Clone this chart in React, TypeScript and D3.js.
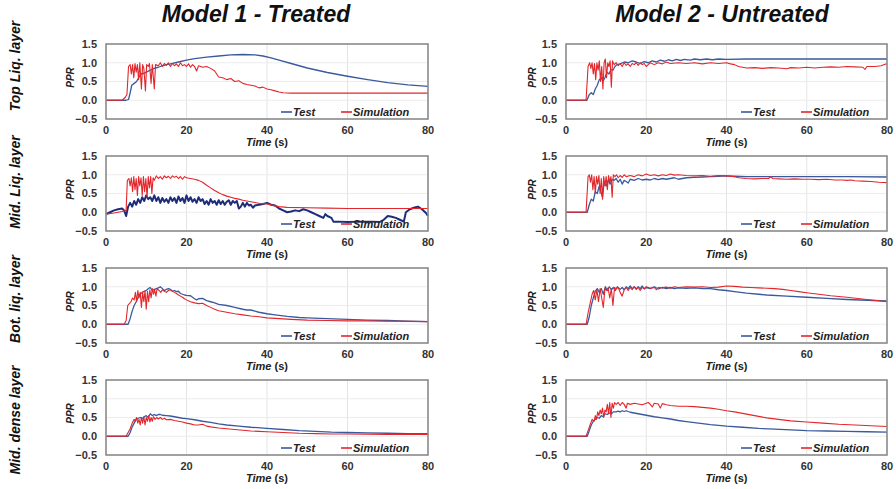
import React from 'react';
import * as d3 from 'd3';

type Pt = [number, number];

const columnTitles = ['Model 1 - Treated', 'Model 2 - Untreated'];
const rowLabels = ['Top Liq. layer', 'Mid. Liq. layer', 'Bot. liq. layer', 'Mid. dense layer'];
const xTicks = [0, 20, 40, 60, 80];
const yTicks = [-0.5, 0, 0.5, 1, 1.5];
const seriesNames = ['Test', 'Simulation'];

// Model 1 - top liquefiable layer
const m1TopTest: Pt[] = [[0,0],[5,0],[5.6,0.02],[6,0.2],[6.4,0.4],[7,0.45],[7.6,0.5],[8.2,0.62],[8.6,0.7],[9.5,0.72],[10,0.75],[11,0.8],[12,0.85],[13,0.88],[14,0.92],[15,0.95],[16,0.97],[18,1.02],[20,1.07],[22,1.11],[25,1.15],[28,1.18],[31,1.21],[34,1.22],[37,1.21],[39,1.18],[41,1.13],[43,1.07],[46,0.98],[50,0.86],[55,0.74],[60,0.64],[65,0.55],[70,0.47],[75,0.41],[80,0.37]];
const m1TopSim: Pt[] = [[0,0],[4,0],[4.8,0.08],[5.2,0.15],[5.6,0.9],[6,0.95],[6.3,0.7],[6.6,0.95],[6.9,0.6],[7.2,0.98],[7.5,0.75],[7.8,0.95],[8.1,0.55],[8.4,1.0],[8.8,0.3],[9.1,0.95],[9.4,0.85],[9.8,0.25],[10.1,0.95],[10.5,0.9],[10.8,0.98],[11.2,0.45],[11.5,0.95],[12,0.3],[12.3,0.95],[13,0.92],[13.5,1.0],[14,0.9],[14.5,0.98],[15,0.93],[15.5,1.0],[16,0.9],[16.5,0.98],[17,0.92],[17.5,0.97],[18,0.9],[18.5,1.0],[19,0.92],[19.5,0.95],[20,0.9],[20.5,0.97],[21,0.88],[21.5,0.95],[22,0.9],[22.5,0.78],[23,0.92],[24,0.88],[25,0.9],[26,0.85],[27,0.78],[28,0.62],[29,0.6],[30,0.55],[31,0.58],[32,0.5],[33,0.52],[34,0.45],[35,0.42],[36,0.4],[37,0.38],[38,0.33],[39,0.35],[40,0.3],[41,0.28],[42,0.25],[43,0.22],[44,0.2],[46,0.19],[50,0.19],[60,0.19],[70,0.19],[80,0.19]];

// Model 2 - top liquefiable layer
const m2TopTest: Pt[] = [[0,0],[5.2,0],[5.8,0.15],[6.3,0.2],[6.8,0.15],[7.3,0.3],[7.8,0.4],[8.3,0.55],[8.8,0.6],[9.2,0.5],[9.7,0.6],[10.2,0.75],[10.7,0.7],[11.2,0.82],[11.7,0.8],[12.2,0.9],[12.7,0.95],[13.5,0.97],[14.5,1.02],[15.5,1.0],[16.5,1.05],[17.5,1.02],[18.5,0.98],[19.5,1.03],[20.5,1.0],[21.5,1.05],[22.5,1.02],[23.5,1.07],[24.5,1.04],[25.5,1.08],[26.5,1.05],[27.5,1.09],[28.5,1.06],[29.5,1.09],[31,1.07],[32,1.1],[33.5,1.08],[35,1.1],[36.5,1.08],[38,1.1],[40,1.09],[45,1.1],[60,1.1],[80,1.1]];
const m2TopSim: Pt[] = [[0,0],[5,0],[5.5,0.9],[5.9,1.0],[6.2,0.85],[6.5,1.0],[6.8,0.7],[7.1,0.98],[7.4,0.55],[7.7,1.0],[8,0.8],[8.3,1.05],[8.6,0.5],[8.9,0.9],[9.2,0.3],[9.5,1.0],[9.8,1.1],[10.1,0.6],[10.4,1.0],[10.7,0.9],[11,1.05],[11.3,0.35],[11.6,1.05],[12,0.95],[12.5,1.0],[13,0.92],[13.5,0.98],[14,0.9],[14.5,1.0],[15,0.93],[15.5,0.97],[16,0.9],[16.5,0.98],[17,0.95],[17.5,1.0],[18,0.93],[18.5,1.0],[19,0.95],[19.5,0.98],[20,0.9],[20.5,0.95],[21,1.0],[22,0.95],[23,1.0],[24,0.97],[25,1.02],[26,0.98],[28,1.0],[30,0.98],[32,1.0],[34,0.97],[36,1.0],[38,0.98],[40,1.0],[41,0.97],[42,0.95],[43,0.9],[44,0.88],[45,0.86],[47,0.87],[49,0.85],[51,0.87],[53,0.86],[55,0.84],[56,0.87],[58,0.86],[60,0.88],[62,0.86],[64,0.88],[66,0.89],[68,0.88],[70,0.9],[72,0.89],[74,0.88],[74.5,0.82],[75,0.9],[77,0.9],[78.5,0.92],[79.5,0.96],[80,0.97]];

// Model 1 - middle liquefiable layer
const m1MidTest: Pt[] = [[0,-0.05],[1,0.0],[2,0.05],[3,0.08],[4,0.1],[4.5,0.05],[5,-0.1],[5.5,0.15],[6,0.25],[6.5,0.15],[7,0.3],[7.5,0.2],[8,0.35],[8.5,0.25],[9,0.4],[9.5,0.3],[10,0.45],[10.5,0.35],[11,0.4],[11.5,0.3],[12,0.45],[12.5,0.3],[13,0.4],[13.5,0.25],[14,0.38],[14.5,0.28],[15,0.35],[15.5,0.25],[16,0.4],[16.5,0.3],[17,0.38],[17.5,0.25],[18,0.42],[18.5,0.3],[19,0.38],[19.5,0.25],[20,0.45],[20.5,0.3],[21,0.4],[21.5,0.28],[22,0.35],[22.5,0.25],[23,0.4],[23.5,0.3],[24,0.35],[24.5,0.22],[25,0.3],[25.5,0.2],[26,0.35],[26.5,0.25],[27,0.3],[27.5,0.2],[28,0.32],[28.5,0.22],[29,0.3],[29.5,0.2],[30,0.28],[30.5,0.32],[31,0.2],[31.5,0.3],[32,0.25],[32.5,0.3],[33,0.1],[33.5,0.15],[34,0.25],[34.5,0.15],[35,0.25],[35.5,0.18],[36,0.2],[36.5,0.12],[37,0.18],[38,0.2],[39,0.22],[40,0.25],[41,0.2],[42,0.18],[43,0.1],[44,0.05],[45,0.0],[46,0.02],[47,0.05],[48,0.03],[49,0.08],[50,0.05],[51,0.0],[52,-0.05],[53,-0.1],[54,-0.15],[54.5,-0.05],[55,-0.1],[56,-0.15],[56.5,-0.25],[58,-0.25],[60,-0.26],[63,-0.25],[66,-0.25],[68,-0.26],[69,-0.2],[70,-0.1],[71,-0.12],[72,-0.15],[73,-0.2],[74,-0.25],[74.5,0.0],[75.5,0.08],[76.5,0.12],[77.5,0.15],[78.5,0.08],[79.5,-0.02],[80,-0.1]];
const m1MidSim: Pt[] = [[0,-0.05],[2,-0.02],[4,0.02],[5,0.05],[5.3,0.85],[5.7,0.9],[6,0.7],[6.3,0.92],[6.6,0.55],[6.9,0.95],[7.2,0.6],[7.5,0.9],[7.8,0.45],[8.1,0.95],[8.4,0.7],[8.7,0.92],[9,0.45],[9.3,0.95],[9.6,0.55],[9.9,0.9],[10.2,0.4],[10.5,0.95],[10.8,0.65],[11.1,0.95],[11.4,0.5],[11.7,0.92],[12,0.85],[12.5,0.97],[13,0.9],[13.5,0.95],[14,0.88],[14.5,0.97],[15,0.92],[15.5,0.96],[16,0.9],[16.5,0.97],[17,0.93],[17.5,0.96],[18,0.9],[18.5,0.95],[19,0.88],[19.5,0.95],[20,0.92],[21,0.9],[22,0.88],[23,0.85],[24,0.8],[25,0.72],[26,0.65],[27,0.58],[28,0.52],[29,0.47],[30,0.43],[31,0.4],[32,0.37],[33,0.35],[34,0.32],[35,0.3],[36,0.28],[37,0.26],[38,0.24],[39,0.23],[40,0.22],[41,0.2],[42,0.17],[43,0.15],[45,0.13],[50,0.12],[55,0.11],[60,0.1],[70,0.1],[80,0.1]];

// Model 2 - middle liquefiable layer
const m2MidTest: Pt[] = [[0,0],[5.3,0],[5.8,0.2],[6.3,0.35],[6.8,0.3],[7.3,0.55],[7.8,0.5],[8.3,0.7],[8.7,0.55],[9.1,0.4],[9.5,0.8],[10,0.7],[10.5,0.85],[11,0.75],[11.5,0.88],[12,0.85],[12.5,0.9],[13,0.8],[13.5,0.88],[14,0.75],[14.5,0.85],[15,0.82],[15.5,0.78],[16,0.88],[17,0.85],[18,0.9],[19,0.86],[20,0.88],[21,0.86],[22,0.9],[23,0.87],[24,0.9],[25,0.88],[27,0.92],[28,0.88],[30,0.92],[32,0.93],[34,0.94],[36,0.95],[38,0.96],[40,0.97],[42,0.96],[45,0.95],[50,0.95],[60,0.95],[70,0.95],[80,0.94]];
const m2MidSim: Pt[] = [[0,0],[5,0],[5.5,0.95],[5.8,1.0],[6.1,0.8],[6.4,1.0],[6.7,0.6],[7,0.95],[7.3,0.5],[7.6,0.95],[7.9,0.75],[8.2,0.98],[8.5,0.5],[8.8,0.9],[9.1,0.35],[9.4,0.95],[9.7,0.7],[10,0.95],[10.3,0.6],[10.6,0.98],[10.9,0.8],[11.2,0.95],[11.5,0.4],[11.8,1.0],[12.2,0.95],[12.6,1.0],[13,0.92],[13.5,0.98],[14,0.93],[14.5,1.0],[15,0.95],[16,0.98],[17,0.95],[18,1.0],[19,0.97],[20,1.02],[21,0.98],[22,1.0],[23,0.97],[24,1.0],[25,0.98],[26,1.02],[27,0.99],[28,1.0],[30,0.98],[32,0.97],[34,0.98],[36,0.96],[38,0.98],[40,0.97],[42,0.95],[43,0.92],[45,0.9],[47,0.89],[49,0.9],[50.5,0.9],[51,0.95],[51.5,0.9],[53,0.89],[55,0.88],[57,0.89],[59,0.88],[61,0.88],[63,0.87],[65,0.88],[67,0.86],[69,0.86],[70,0.85],[71,0.86],[72,0.84],[74,0.83],[76,0.82],[78,0.8],[80,0.79]];

// Model 1 - bottom liquefiable layer
const m1BotTest: Pt[] = [[0,0],[5.5,0],[6,0.15],[6.5,0.35],[7,0.5],[7.5,0.6],[8,0.72],[8.5,0.8],[9,0.85],[9.5,0.88],[10,0.9],[10.5,0.95],[11,0.98],[11.5,0.9],[12,0.93],[12.5,0.95],[13,0.97],[13.5,1.0],[14,0.95],[14.5,0.9],[15,0.93],[15.5,0.95],[16,0.93],[16.5,0.88],[17,0.9],[17.5,0.87],[18,0.88],[18.5,0.82],[19,0.8],[19.5,0.78],[20,0.77],[21,0.76],[21.5,0.72],[22,0.68],[22.5,0.65],[23,0.68],[24,0.69],[25,0.63],[26,0.6],[27,0.57],[28,0.53],[30,0.5],[32,0.45],[34,0.4],[35,0.38],[36,0.38],[38,0.32],[40,0.28],[42,0.25],[45,0.21],[48,0.18],[50,0.17],[55,0.15],[60,0.13],[65,0.11],[70,0.1],[75,0.08],[80,0.07]];
const m1BotSim: Pt[] = [[0,0],[4.5,0],[5,0.1],[5.4,0.5],[5.8,0.55],[6.2,0.6],[6.6,0.7],[7,0.65],[7.3,0.85],[7.6,0.6],[7.9,0.9],[8.2,0.7],[8.5,0.85],[8.8,0.45],[9.1,0.85],[9.4,0.6],[9.7,0.9],[10,0.4],[10.3,0.88],[10.6,0.6],[10.9,0.92],[11.2,0.7],[11.5,0.95],[11.8,0.8],[12.1,0.92],[12.4,0.75],[12.7,0.95],[13.2,0.9],[13.6,0.85],[14,0.92],[14.5,0.88],[15,0.85],[15.5,0.9],[16,0.92],[16.5,0.88],[17,0.85],[17.5,0.82],[18,0.78],[18.5,0.75],[19,0.72],[19.5,0.68],[20,0.65],[21,0.6],[22,0.57],[23,0.55],[24,0.56],[25,0.5],[26,0.45],[27,0.4],[28,0.36],[30,0.32],[32,0.28],[34,0.25],[36,0.22],[38,0.2],[40,0.17],[43,0.15],[46,0.13],[50,0.11],[55,0.1],[60,0.09],[65,0.09],[70,0.08],[75,0.08],[80,0.07]];

// Model 2 - bottom liquefiable layer
const m2BotTest: Pt[] = [[0,0],[5.3,0],[5.8,0.2],[6.3,0.5],[6.8,0.7],[7.3,0.88],[7.8,0.95],[8.3,0.85],[8.8,0.95],[9.3,0.8],[9.8,1.0],[10.3,0.9],[10.8,1.0],[11.3,0.92],[11.8,0.98],[12.3,0.9],[12.8,1.0],[13.5,0.93],[14,0.98],[14.5,0.92],[15,1.0],[15.5,0.95],[16,1.02],[16.5,0.95],[17,1.0],[17.5,0.93],[18,1.0],[18.5,0.95],[19,1.02],[19.5,0.94],[20,0.98],[21,0.95],[22,1.0],[23,0.94],[24,0.98],[25,0.95],[26,0.98],[27,0.95],[28,0.97],[30,0.96],[32,0.97],[34,0.95],[36,0.95],[38,0.92],[40,0.9],[42,0.87],[45,0.83],[48,0.8],[50,0.78],[55,0.75],[60,0.72],[65,0.69],[70,0.66],[75,0.64],[80,0.62]];
const m2BotSim: Pt[] = [[0,0],[5,0],[5.5,0.3],[6,0.55],[6.5,0.8],[6.9,0.9],[7.3,0.65],[7.7,0.92],[8.1,0.6],[8.5,0.95],[8.9,0.7],[9.3,0.45],[9.7,0.95],[10.1,0.9],[10.5,0.97],[10.9,0.7],[11.3,0.95],[11.7,0.5],[12.1,0.98],[12.5,0.95],[13,0.98],[13.5,0.85],[14,0.75],[14.5,0.92],[15,0.98],[15.5,0.9],[16,0.98],[16.5,0.92],[17,1.0],[17.5,0.95],[18,0.98],[18.5,0.9],[19,0.98],[19.5,0.95],[20,1.0],[21,0.96],[22,0.98],[22.5,0.92],[23,0.98],[24,0.97],[25,0.99],[26,0.96],[27,1.0],[28,0.98],[30,1.0],[32,0.99],[34,1.0],[36,0.98],[38,0.99],[40,1.02],[42,1.01],[44,0.99],[46,0.98],[48,0.97],[50,0.96],[52,0.95],[54,0.93],[56,0.9],[58,0.87],[60,0.84],[63,0.8],[66,0.76],[70,0.72],[75,0.66],[80,0.6]];

// Model 1 - middle dense layer
const m1DenseTest: Pt[] = [[0,0],[5.5,0],[6,0.1],[6.5,0.25],[7,0.35],[7.5,0.45],[8,0.48],[8.5,0.5],[9,0.47],[9.5,0.52],[10,0.55],[10.5,0.5],[11,0.6],[11.5,0.55],[12,0.58],[12.5,0.55],[13,0.58],[13.5,0.58],[14,0.56],[15,0.55],[16,0.54],[17,0.52],[18,0.5],[19,0.48],[20,0.47],[22,0.44],[24,0.4],[26,0.37],[28,0.33],[30,0.3],[33,0.27],[36,0.24],[40,0.21],[44,0.18],[48,0.15],[52,0.13],[56,0.11],[60,0.1],[65,0.09],[70,0.08],[75,0.07],[80,0.07]];
const m1DenseSim: Pt[] = [[0,0],[5,0],[5.5,0.1],[6,0.2],[6.5,0.35],[7,0.45],[7.3,0.4],[7.6,0.5],[7.9,0.35],[8.2,0.45],[8.5,0.3],[8.8,0.5],[9.1,0.35],[9.4,0.52],[9.7,0.3],[10,0.5],[10.3,0.4],[10.6,0.55],[10.9,0.38],[11.2,0.5],[11.5,0.4],[11.8,0.52],[12.2,0.45],[12.6,0.5],[13,0.46],[13.5,0.5],[14,0.45],[14.5,0.48],[15,0.44],[16,0.45],[17,0.42],[18,0.4],[19,0.38],[20,0.35],[21,0.33],[22,0.3],[23,0.3],[24,0.32],[25,0.27],[26,0.25],[28,0.22],[30,0.2],[32,0.18],[34,0.16],[36,0.14],[38,0.13],[40,0.12],[44,0.1],[48,0.08],[52,0.07],[56,0.06],[60,0.06],[70,0.05],[80,0.05]];

// Model 2 - middle dense layer
const m2DenseTest: Pt[] = [[0,0],[5.3,0],[5.8,0.15],[6.3,0.3],[6.8,0.4],[7.3,0.45],[7.8,0.5],[8.3,0.48],[8.8,0.55],[9.3,0.52],[9.8,0.6],[10.3,0.58],[10.8,0.62],[11.3,0.6],[11.8,0.65],[12.5,0.65],[13,0.67],[13.5,0.65],[14,0.68],[14.5,0.66],[15,0.68],[16,0.64],[17,0.62],[18,0.6],[19,0.58],[20,0.56],[22,0.52],[24,0.49],[26,0.46],[28,0.42],[30,0.39],[33,0.35],[36,0.31],[40,0.27],[44,0.24],[48,0.21],[52,0.19],[56,0.17],[60,0.15],[65,0.14],[70,0.13],[75,0.12],[80,0.11]];
const m2DenseSim: Pt[] = [[0,0],[5,0],[5.5,0.15],[6,0.3],[6.5,0.45],[7,0.4],[7.3,0.55],[7.6,0.45],[7.9,0.65],[8.2,0.55],[8.5,0.7],[8.8,0.6],[9.1,0.75],[9.4,0.5],[9.7,0.7],[10,0.65],[10.3,0.85],[10.6,0.6],[10.9,0.9],[11.2,0.5],[11.5,0.88],[11.8,0.75],[12.1,0.9],[12.5,0.85],[13,0.9],[13.5,0.82],[14,0.9],[14.5,0.85],[15,0.75],[15.3,0.88],[16,0.85],[17,0.88],[18,0.86],[19,0.84],[20,0.88],[20.5,0.9],[21,0.85],[21.5,0.78],[22,0.88],[23,0.86],[23.5,0.75],[24,0.87],[25,0.84],[26,0.82],[28,0.8],[30,0.8],[32,0.79],[34,0.77],[36,0.75],[38,0.72],[40,0.68],[42,0.65],[44,0.61],[46,0.57],[48,0.53],[50,0.49],[53,0.45],[56,0.41],[60,0.38],[64,0.35],[68,0.32],[72,0.3],[76,0.28],[80,0.26]];

const FONT = "Arial, 'Liberation Sans', sans-serif";
const BLUE = '#3a5a9e';
const NAVY = '#1e2d7a';
const RED = '#e3262b';

const colLeft = [106, 566];
const colWidth = [322, 321];
const rowTop = [44, 156, 268, 380];
const plotH = 75;
const rowLabelY = [66, 182, 299, 420];

type PanelProps = {
  x0: number;
  y0: number;
  w: number;
  h: number;
  test: Pt[];
  sim: Pt[];
  testColor: string;
  testWidth: number;
  pprX: number;
};

function Panel({ x0, y0, w, h, test, sim, testColor, testWidth, pprX }: PanelProps) {
  const x = d3.scaleLinear().domain([0, 80]).range([0, w]);
  const y = d3.scaleLinear().domain([-0.5, 1.5]).range([h, 0]);
  const line = d3
    .line<Pt>()
    .x((d) => x(d[0]))
    .y((d) => y(d[1]));

  return (
    <g transform={`translate(${x0},${y0})`}>
      {xTicks.slice(1, -1).map((t) => (
        <line key={'gx' + t} x1={x(t)} x2={x(t)} y1={0} y2={h} stroke="#e4e4e4" strokeWidth={1} />
      ))}
      {yTicks.slice(1, -1).map((t) => (
        <line key={'gy' + t} x1={0} x2={w} y1={y(t)} y2={y(t)} stroke="#ececec" strokeWidth={1} />
      ))}
      <path d={line(test) || ''} fill="none" stroke={testColor} strokeWidth={testWidth} strokeLinejoin="round" />
      <path d={line(sim) || ''} fill="none" stroke={RED} strokeWidth={1.1} strokeLinejoin="round" />
      <rect x={0} y={0} width={w} height={h} fill="none" stroke="#8a8a8a" strokeWidth={1.6} />
      {yTicks.map((t) => (
        <text key={'ty' + t} x={-9} y={y(t)} dy="0.35em" textAnchor="end" fontSize={11} fontWeight="bold" fill="#333" fontFamily={FONT}>
          {d3.format('.1f')(t)}
        </text>
      ))}
      {xTicks.map((t) => (
        <text key={'tx' + t} x={x(t)} y={h + 15} textAnchor="middle" fontSize={11} fontWeight="bold" fill="#333" fontFamily={FONT}>
          {t}
        </text>
      ))}
      <text x={w / 2} y={h + 27} textAnchor="middle" fontSize={11} fontWeight="bold" fill="#222" fontFamily={FONT}>
        <tspan fontStyle="italic">Time</tspan> (s)
      </text>
      <text
        transform={`translate(${pprX},${h / 2 - 4}) rotate(-90)`}
        textAnchor="middle"
        fontSize={10}
        fontWeight="bold"
        fontStyle="italic"
        fill="#222"
        fontFamily={FONT}
      >
        PPR
      </text>
      {/* legend */}
      <g transform={`translate(175,${h - 7})`} fontFamily={FONT} fontSize={11} fontWeight="bold" fontStyle="italic" fill="#222">
        <line x1={0} x2={11} y1={0} y2={0} stroke={BLUE} strokeWidth={1.6} />
        <text x={12} y={0} dy="0.35em">{seriesNames[0]}</text>
        <line x1={60} x2={71} y1={0} y2={0} stroke={RED} strokeWidth={1.6} />
        <text x={72} y={0} dy="0.35em">{seriesNames[1]}</text>
      </g>
    </g>
  );
}

const panels: { test: Pt[]; sim: Pt[] }[][] = [
  [{ test: m1TopTest, sim: m1TopSim }, { test: m2TopTest, sim: m2TopSim }],
  [{ test: m1MidTest, sim: m1MidSim }, { test: m2MidTest, sim: m2MidSim }],
  [{ test: m1BotTest, sim: m1BotSim }, { test: m2BotTest, sim: m2BotSim }],
  [{ test: m1DenseTest, sim: m1DenseSim }, { test: m2DenseTest, sim: m2DenseSim }],
];

export default function App() {
  return (
    <svg width={896} height={489} style={{ position: 'absolute', left: 0, top: 0, background: '#fff' }}>
      {columnTitles.map((t, i) => (
        <text
          key={t}
          x={i === 0 ? 256 : 722}
          y={22}
          textAnchor="middle"
          fontSize={23}
          fontWeight="bold"
          fontStyle="italic"
          fill="#111"
          fontFamily={FONT}
        >
          {t}
        </text>
      ))}
      {rowLabels.map((t, r) => (
        <text
          key={t}
          transform={`translate(20,${rowLabelY[r]}) rotate(-90)`}
          textAnchor="middle"
          fontSize={14}
          fontWeight="bold"
          fontStyle="italic"
          fill="#111"
          fontFamily={FONT}
        >
          {t}
        </text>
      ))}
      {panels.map((row, r) =>
        row.map((p, c) => (
          <Panel
            key={r + '-' + c}
            x0={colLeft[c]}
            y0={rowTop[r]}
            w={colWidth[c]}
            h={plotH}
            test={p.test}
            sim={p.sim}
            testColor={r === 1 && c === 0 ? NAVY : BLUE}
            testWidth={r === 1 && c === 0 ? 2 : 1.3}
            pprX={c === 0 ? -32 : -30}
          />
        ))
      )}
    </svg>
  );
}
